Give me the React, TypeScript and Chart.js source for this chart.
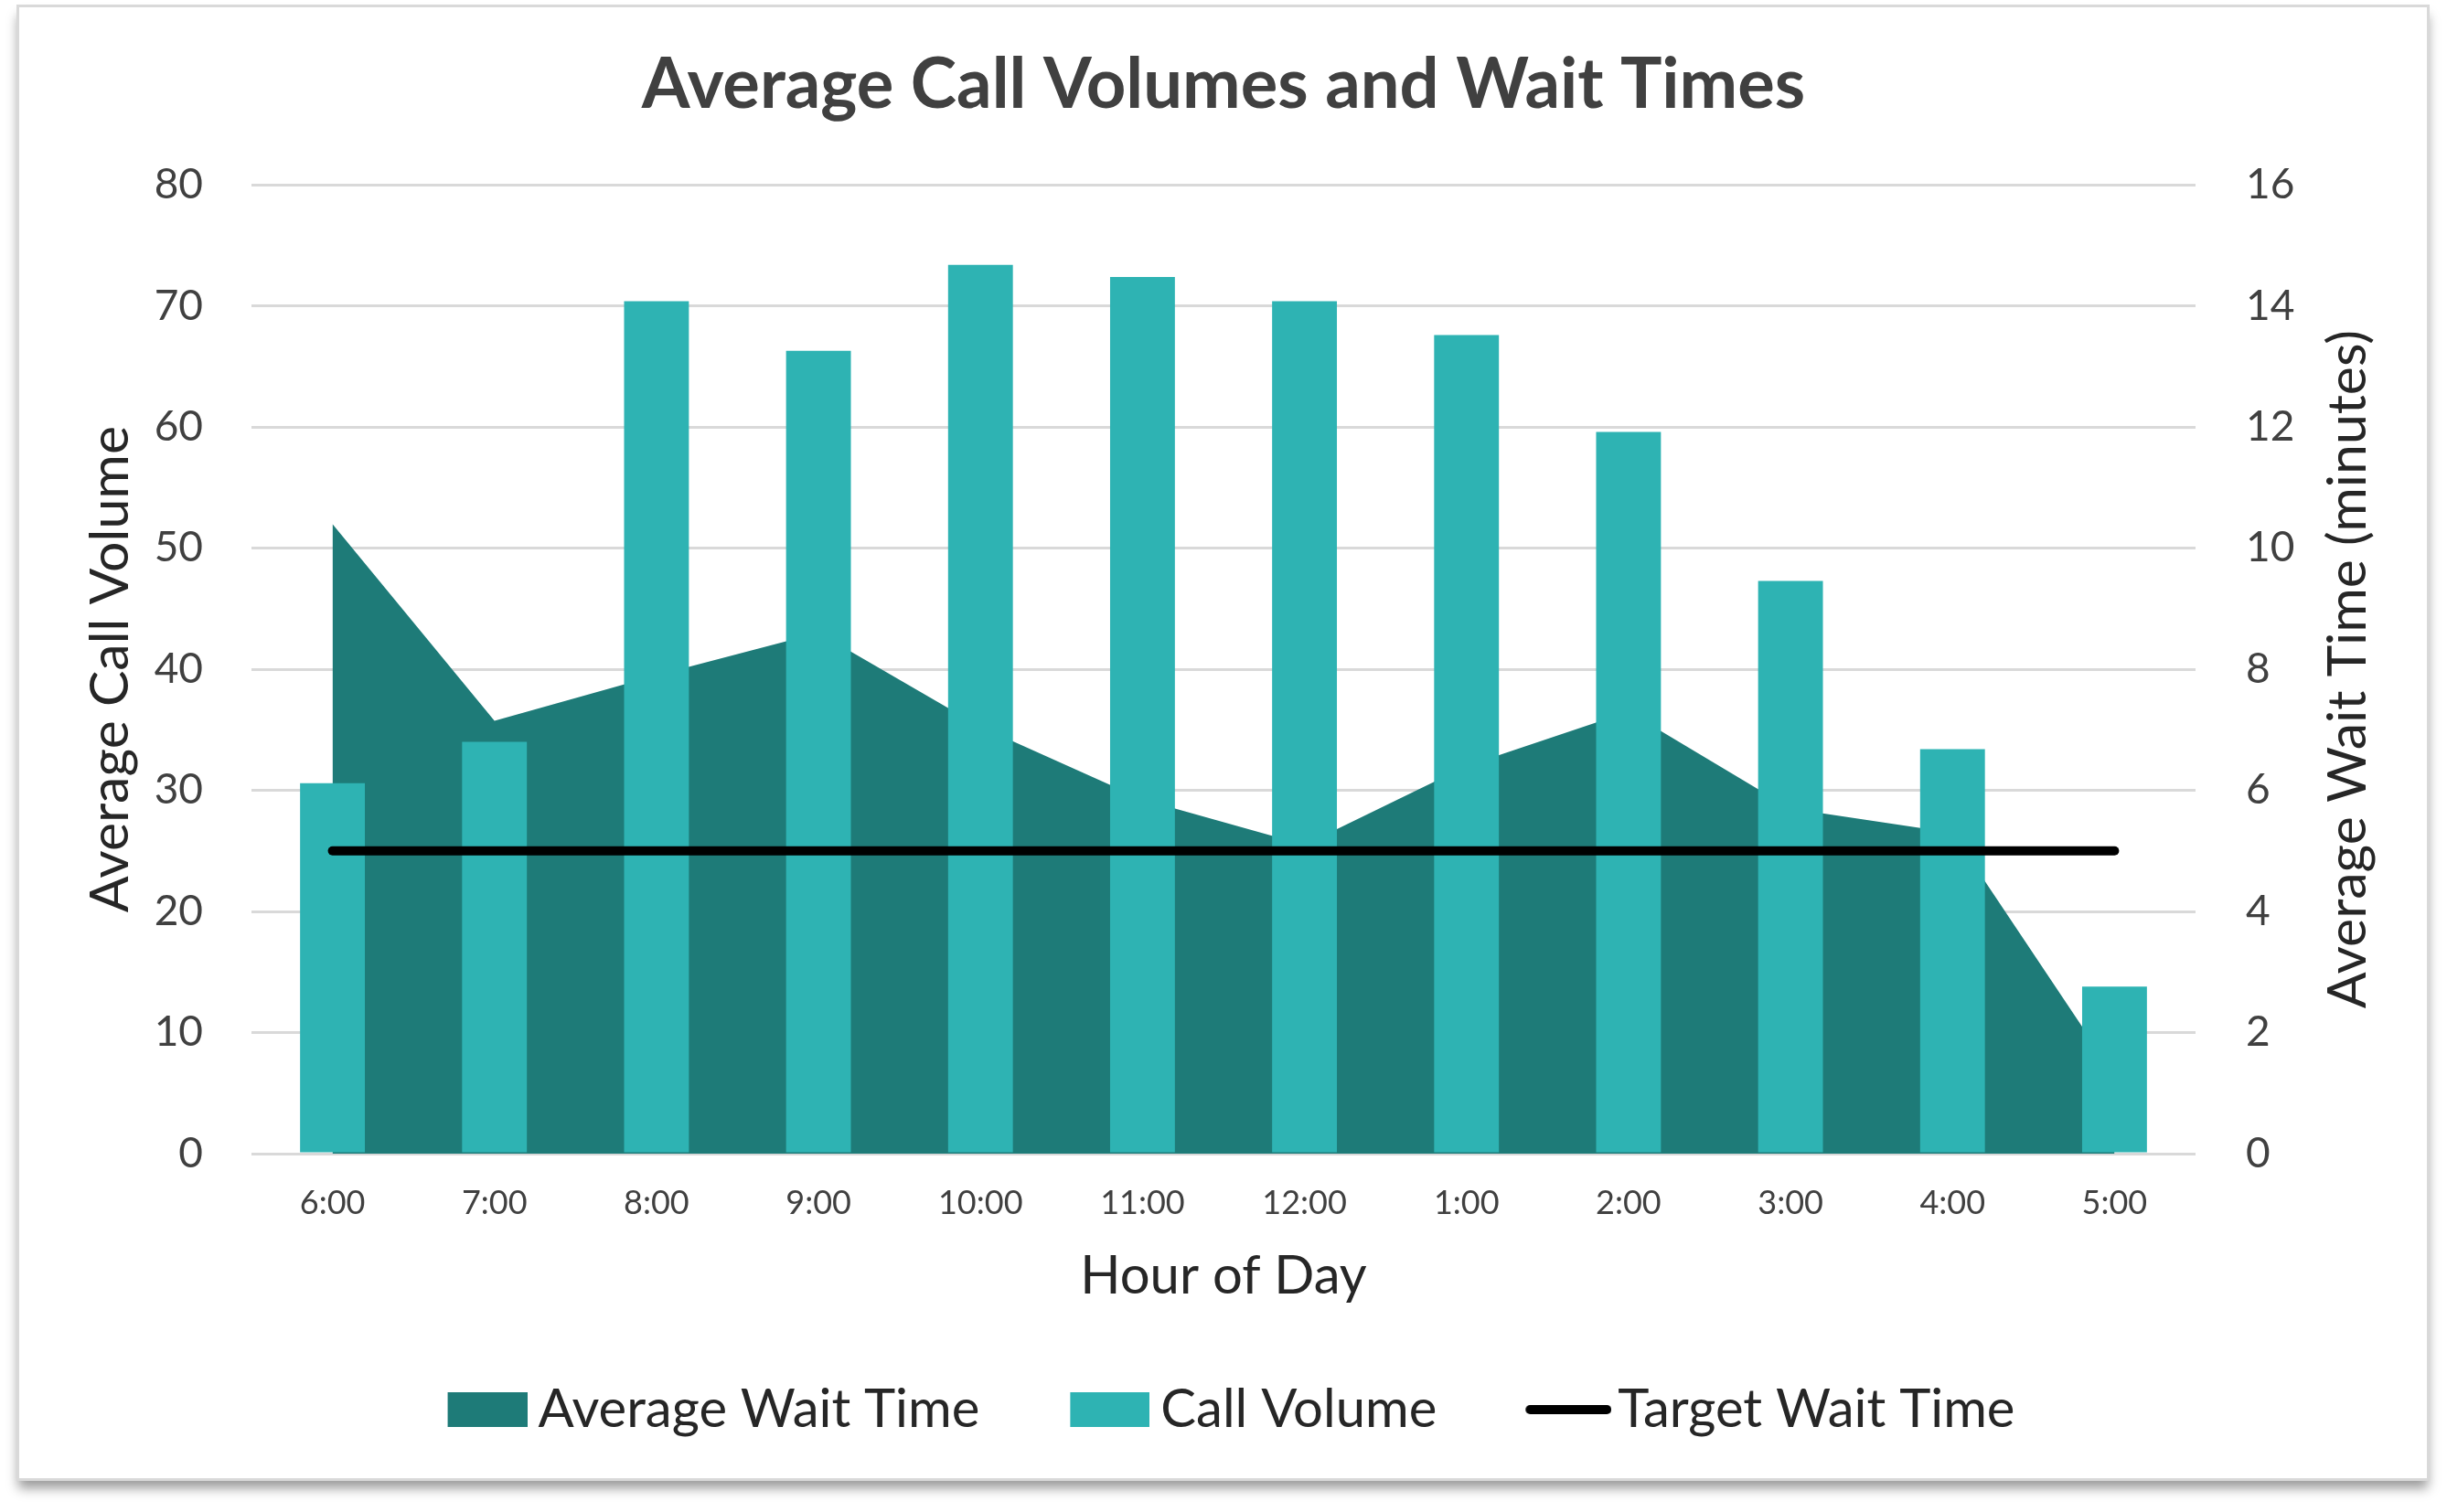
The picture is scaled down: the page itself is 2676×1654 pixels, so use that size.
import React, { useEffect, useRef } from "react";
import { Chart, registerables } from "chart.js";

Chart.register(...registerables);

const hours = ["6:00", "7:00", "8:00", "9:00", "10:00", "11:00", "12:00", "1:00", "2:00", "3:00", "4:00", "5:00"];
const callVolume = [30.6, 34.0, 70.4, 66.3, 73.4, 72.4, 70.4, 67.6, 59.6, 47.3, 33.4, 13.8];
const avgWaitTime = [10.4, 7.15, 7.9, 8.6, 7.05, 5.85, 5.1, 6.4, 7.3, 5.7, 5.3, 1.3];
const targetWaitTime = [5, 5, 5, 5, 5, 5, 5, 5, 5, 5, 5, 5];

const titleText = "Average Call Volumes and Wait Times";
const leftAxisTitle = "Average Call Volume";
const rightAxisTitle = "Average Wait Time (minutes)";
const xAxisTitle = "Hour of Day";
const seriesNames = ["Average Wait Time", "Call Volume", "Target Wait Time"];

const AREA = "#1E7B78";
const BAR = "#2EB3B3";
const LINE = "#000000";
const FONT = "Lato, 'Open Sans', sans-serif";
const AXIS_TITLE_COLOR = "#262626";

function makeSwatch(totalW: number, h: number, contentW: number, color: string, kind: "rect" | "line") {
  const c = document.createElement("canvas");
  c.width = totalW;
  c.height = h;
  const g = c.getContext("2d")!;
  if (kind === "rect") {
    g.fillStyle = color;
    g.fillRect(totalW - contentW, 0, contentW, h);
  } else {
    g.strokeStyle = color;
    g.lineWidth = 10;
    g.lineCap = "round";
    g.beginPath();
    g.moveTo(totalW - contentW + 5, h / 2);
    g.lineTo(totalW - 5, h / 2);
    g.stroke();
  }
  return c;
}

const rightTitlePlugin = {
  id: "rightAxisTitle",
  afterDraw(chart: any) {
    const s = chart.scales.y1;
    if (!s) return;
    const ctx = chart.ctx;
    ctx.save();
    ctx.font = `59px ${FONT}`;
    ctx.fillStyle = AXIS_TITLE_COLOR;
    ctx.textAlign = "center";
    ctx.textBaseline = "middle";
    ctx.translate(s.right - 48, (s.top + s.bottom) / 2);
    ctx.rotate(-Math.PI / 2);
    ctx.fillText(rightAxisTitle, 0, 0);
    ctx.restore();
  },
};

export default function App() {
  const ref = useRef<HTMLCanvasElement | null>(null);

  useEffect(() => {
    if (!ref.current) return;
    const swatches = [
      makeSwatch(121, 38, 87, AREA, "rect"),
      makeSwatch(121, 38, 87, BAR, "rect"),
      makeSwatch(131, 12, 94, LINE, "line"),
    ];
    const chart = new Chart(ref.current, {
      data: {
        labels: hours,
        datasets: [
          {
            type: "line",
            label: seriesNames[0],
            data: avgWaitTime,
            yAxisID: "y1",
            fill: "origin",
            backgroundColor: AREA,
            borderWidth: 0,
            borderColor: AREA,
            pointRadius: 0,
            tension: 0,
            order: 3,
          },
          {
            type: "bar",
            label: seriesNames[1],
            data: callVolume,
            yAxisID: "y",
            backgroundColor: BAR,
            borderWidth: 0,
            barPercentage: 0.4,
            categoryPercentage: 1.0,
            order: 2,
          },
          {
            type: "line",
            label: seriesNames[2],
            data: targetWaitTime,
            yAxisID: "y1",
            borderColor: LINE,
            borderWidth: 10,
            borderCapStyle: "round",
            pointRadius: 0,
            fill: false,
            order: 1,
          },
        ],
      } as any,
      options: {
        animation: false,
        responsive: false,
        devicePixelRatio: 1,
        layout: { padding: { top: 20, left: 60, right: 60, bottom: 73 } },
        plugins: {
          tooltip: { enabled: false },
          title: {
            display: true,
            text: titleText,
            color: "#404040",
            font: { family: FONT, size: 76, weight: "bold" },
            padding: { top: 28, bottom: 63 },
          },
          legend: {
            display: true,
            position: "bottom",
            labels: {
              usePointStyle: true,
              pointStyleWidth: 87,
              boxHeight: 38,
              padding: 82,
              color: AXIS_TITLE_COLOR,
              font: { family: FONT, size: 58 },
              sort: (a: any, b: any) => a.datasetIndex - b.datasetIndex,
              generateLabels: (c: any) => {
                const items = (Chart.defaults.plugins.legend.labels as any).generateLabels(c);
                return items.map((it: any) => ({
                  ...it,
                  pointStyle: swatches[it.datasetIndex],
                  fontColor: AXIS_TITLE_COLOR,
                }));
              },
            },
          },
        },
        scales: {
          x: {
            type: "category",
            offset: true,
            grid: { display: false, drawTicks: false },
            border: { display: false },
            ticks: { color: "#404040", font: { family: FONT, size: 36 }, padding: 33, maxRotation: 0 },
            title: {
              display: true,
              text: xAxisTitle,
              color: AXIS_TITLE_COLOR,
              font: { family: FONT, size: 58 },
              padding: { top: 0, bottom: 0 },
            },
            afterFit: (s: any) => {
              s.height = 169;
            },
          },
          y: {
            type: "linear",
            position: "left",
            min: 0,
            max: 80,
            ticks: { stepSize: 10, color: "#404040", font: { family: FONT, size: 46 }, padding: 53 },
            grid: { color: "#D9D9D9", lineWidth: 3, drawTicks: false },
            border: { display: false },
            title: {
              display: true,
              text: leftAxisTitle,
              color: AXIS_TITLE_COLOR,
              font: { family: FONT, size: 59 },
              padding: { top: 26, bottom: 0 },
            },
            afterFit: (s: any) => {
              s.width = 215;
            },
          },
          y1: {
            type: "linear",
            position: "right",
            min: 0,
            max: 16,
            ticks: { stepSize: 2, color: "#404040", font: { family: FONT, size: 46 }, padding: 55 },
            grid: { display: false, drawTicks: false },
            border: { display: false },
            title: { display: false },
            afterFit: (s: any) => {
              s.width = 215;
            },
          },
        },
      } as any,
      plugins: [rightTitlePlugin],
    });
    return () => chart.destroy();
  }, []);

  return (
    <div style={{ position: "fixed", left: 0, top: 0, width: 2676, height: 1654, background: "#ffffff", overflow: "hidden" }}>
      <div
        style={{
          position: "absolute",
          left: 18,
          top: 5,
          width: 2639,
          height: 1615,
          boxSizing: "border-box",
          border: "3px solid #D9D9D9",
          background: "#ffffff",
          boxShadow: "0 10px 12px -2px rgba(0,0,0,0.4)",
        }}
      />
      <canvas ref={ref} width={2676} height={1654} style={{ position: "absolute", left: 0, top: 0, width: 2676, height: 1654 }} />
    </div>
  );
}
